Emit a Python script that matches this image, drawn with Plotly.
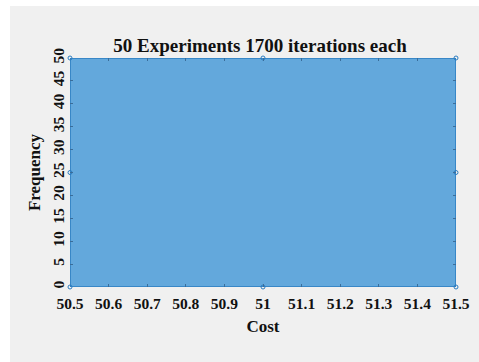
import plotly.graph_objects as go

# Histogram data: one bin covering the whole cost range
bin_left = [50.5]
bin_right = [51.5]
counts = [50]

x_ticks = [50.5, 50.6, 50.7, 50.8, 50.9, 51.0, 51.1, 51.2, 51.3, 51.4, 51.5]
x_tick_text = ["50.5", "50.6", "50.7", "50.8", "50.9", "51", "51.1", "51.2", "51.3", "51.4", "51.5"]
y_ticks = [0, 5, 10, 15, 20, 25, 30, 35, 40, 45, 50]

W, H = 479, 362
L, R, T, B = 70, 23, 58, 75
pw, ph = W - L - R, H - T - B

centers = [(a + b) / 2 for a, b in zip(bin_left, bin_right)]
widths = [b - a for a, b in zip(bin_left, bin_right)]

font = "Liberation Serif, Times New Roman, serif"
ink = "#111111"

fig = go.Figure()
fig.add_trace(go.Bar(
    x=centers, y=counts, width=widths,
    marker=dict(color="#63a8dc", line=dict(color="#2b7cc0", width=1.5)),
    hoverinfo="skip", showlegend=False,
))

# vertex handles on the bar outline
hx, hy = [], []
for a, b, c in zip(bin_left, bin_right, counts):
    m = (a + b) / 2
    hx += [a, m, b, a, b, a, m, b]
    hy += [0, 0, 0, c / 2, c / 2, c, c, c]
fig.add_trace(go.Scatter(
    x=hx, y=hy, mode="markers",
    marker=dict(symbol="circle-open", size=4, color="#2b7cc0", line=dict(width=1)),
    hoverinfo="skip", showlegend=False, cliponaxis=False,
))

tick_font = dict(family=font, size=15.5, color=ink, weight="bold")
title_font = dict(family=font, size=17, color=ink, weight="bold")

fig.update_layout(
    width=W, height=H,
    margin=dict(l=L, r=R, t=T, b=B, autoexpand=False),
    paper_bgcolor="#f0f0f0",
    plot_bgcolor="white",
    title=dict(text="50 Experiments 1700 iterations each",
               x=(L + pw / 2 - 3) / W, xanchor="center",
               y=1 - 45 / H, yanchor="middle",
               font=dict(family=font, size=19, color=ink, weight="bold"),
               automargin=False),
    xaxis=dict(range=[50.5, 51.5], tickvals=x_ticks, ticktext=x_tick_text,
               ticks="inside", ticklen=3, tickcolor="#3a6d9a", mirror="ticks",
               showgrid=False, zeroline=False, showline=False,
               tickfont=tick_font, ticklabelstandoff=5, automargin=False,
               title=dict(text="Cost", font=title_font, standoff=9)),
    yaxis=dict(range=[0, 50], tickvals=y_ticks, tickangle=-90,
               ticks="inside", ticklen=3, tickcolor="#3a6d9a", mirror="ticks",
               showgrid=False, zeroline=False, showline=False,
               tickfont=tick_font, ticklabelstandoff=2, automargin=False,
               title=dict(text="Frequency", font=title_font, standoff=4)),
    shapes=[
        dict(type="rect", xref="paper", yref="paper",
             x0=-L / pw, x1=(10 - L) / pw, y0=-B / ph, y1=1 + T / ph,
             fillcolor="white", line=dict(width=0), layer="below"),
        dict(type="rect", xref="paper", yref="paper",
             x0=-L / pw, x1=1 + R / pw, y0=1 + (T - 6) / ph, y1=1 + T / ph,
             fillcolor="white", line=dict(width=0), layer="below"),
    ],
)

fig.write_html("out.html")
